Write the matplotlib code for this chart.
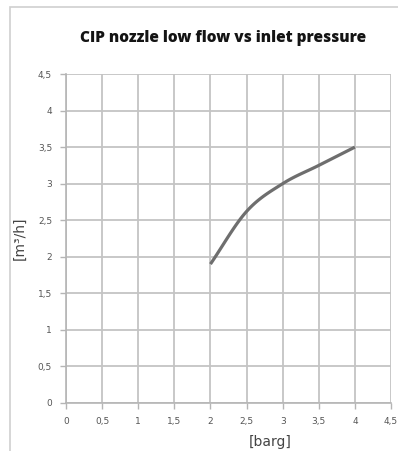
import numpy as np
import matplotlib
matplotlib.use("Agg")
import matplotlib.pyplot as plt
from matplotlib.patches import Rectangle

# Nozzle flow curve
pressure = [2.0, 2.5, 3.0, 3.5, 4.0]        # barg
flow = [1.9, 2.62, 3.0, 3.25, 3.5]           # m3/h
ticks = [0, 0.5, 1, 1.5, 2, 2.5, 3, 3.5, 4, 4.5]
tick_labels = ["0", "0,5", "1", "1,5", "2", "2,5", "3", "3,5", "4", "4,5"]


def smooth(x, y, n=20):
    """Catmull-Rom curve through the given points."""
    x = np.asarray(x, float)
    y = np.asarray(y, float)
    px = np.concatenate([[2 * x[0] - x[1]], x, [2 * x[-1] - x[-2]]])
    py = np.concatenate([[2 * y[0] - y[1]], y, [2 * y[-1] - y[-2]]])
    xs, ys = [], []
    t = np.linspace(0, 1, n)
    for i in range(1, len(px) - 2):
        for arr, out in ((px, xs), (py, ys)):
            p0, p1, p2, p3 = arr[i - 1], arr[i], arr[i + 1], arr[i + 2]
            out.extend(0.5 * ((2 * p1) + (-p0 + p2) * t
                              + (2 * p0 - 5 * p1 + 4 * p2 - p3) * t ** 2
                              + (-p0 + 3 * p1 - 3 * p2 + p3) * t ** 3))
    return np.array(xs), np.array(ys)


W, H = 398, 451
fig = plt.figure(figsize=(W / 100, H / 100), dpi=100)

# chart frame (runs off the right and bottom edges)
fig.patches.append(Rectangle((10 / W, -0.5), 2.0, 1.5 - 7 / H, transform=fig.transFigure,
                             fill=False, edgecolor="#cfcfcf", linewidth=1.2))

ax = fig.add_axes([66 / W, 1 - 403 / H, (391 - 66) / W, (403 - 74) / H])
ax.set_xlim(0, 4.5)
ax.set_ylim(0, 4.5)
ax.set_xticks(ticks)
ax.set_yticks(ticks)
ax.set_xticklabels(tick_labels)
ax.set_yticklabels(tick_labels)
ax.grid(True, color="#c4c4c4", linewidth=1.3)
ax.set_axisbelow(True)
for s in ("top", "right"):
    ax.spines[s].set_visible(False)
for s in ("left", "bottom"):
    ax.spines[s].set_color("#b5b5b5")
    ax.spines[s].set_linewidth(1.2)
ax.tick_params(colors="#b5b5b5", labelcolor="#555555", labelsize=6.5,
               length=4, width=1.0, pad=6)

sx, sy = smooth(pressure, flow)
ax.plot(sx, sy, color="#6e6e6e", linewidth=2.3, solid_capstyle="butt")

ax.set_xlabel("[barg]", fontsize=10, color="#444444")
ax.xaxis.set_label_coords((270 - 66) / 325, (403 - 435) / 329)
ax.set_ylabel("[m³/h]", fontsize=10, color="#444444", labelpad=8)

fig.text(223 / W, 1 - 38 / H, "CIP nozzle low flow vs inlet pressure",
         ha="center", va="center", fontsize=11.1, fontweight="heavy",
         color="#141414", family="Open Sans")

fig.savefig("out.png", dpi=100)
